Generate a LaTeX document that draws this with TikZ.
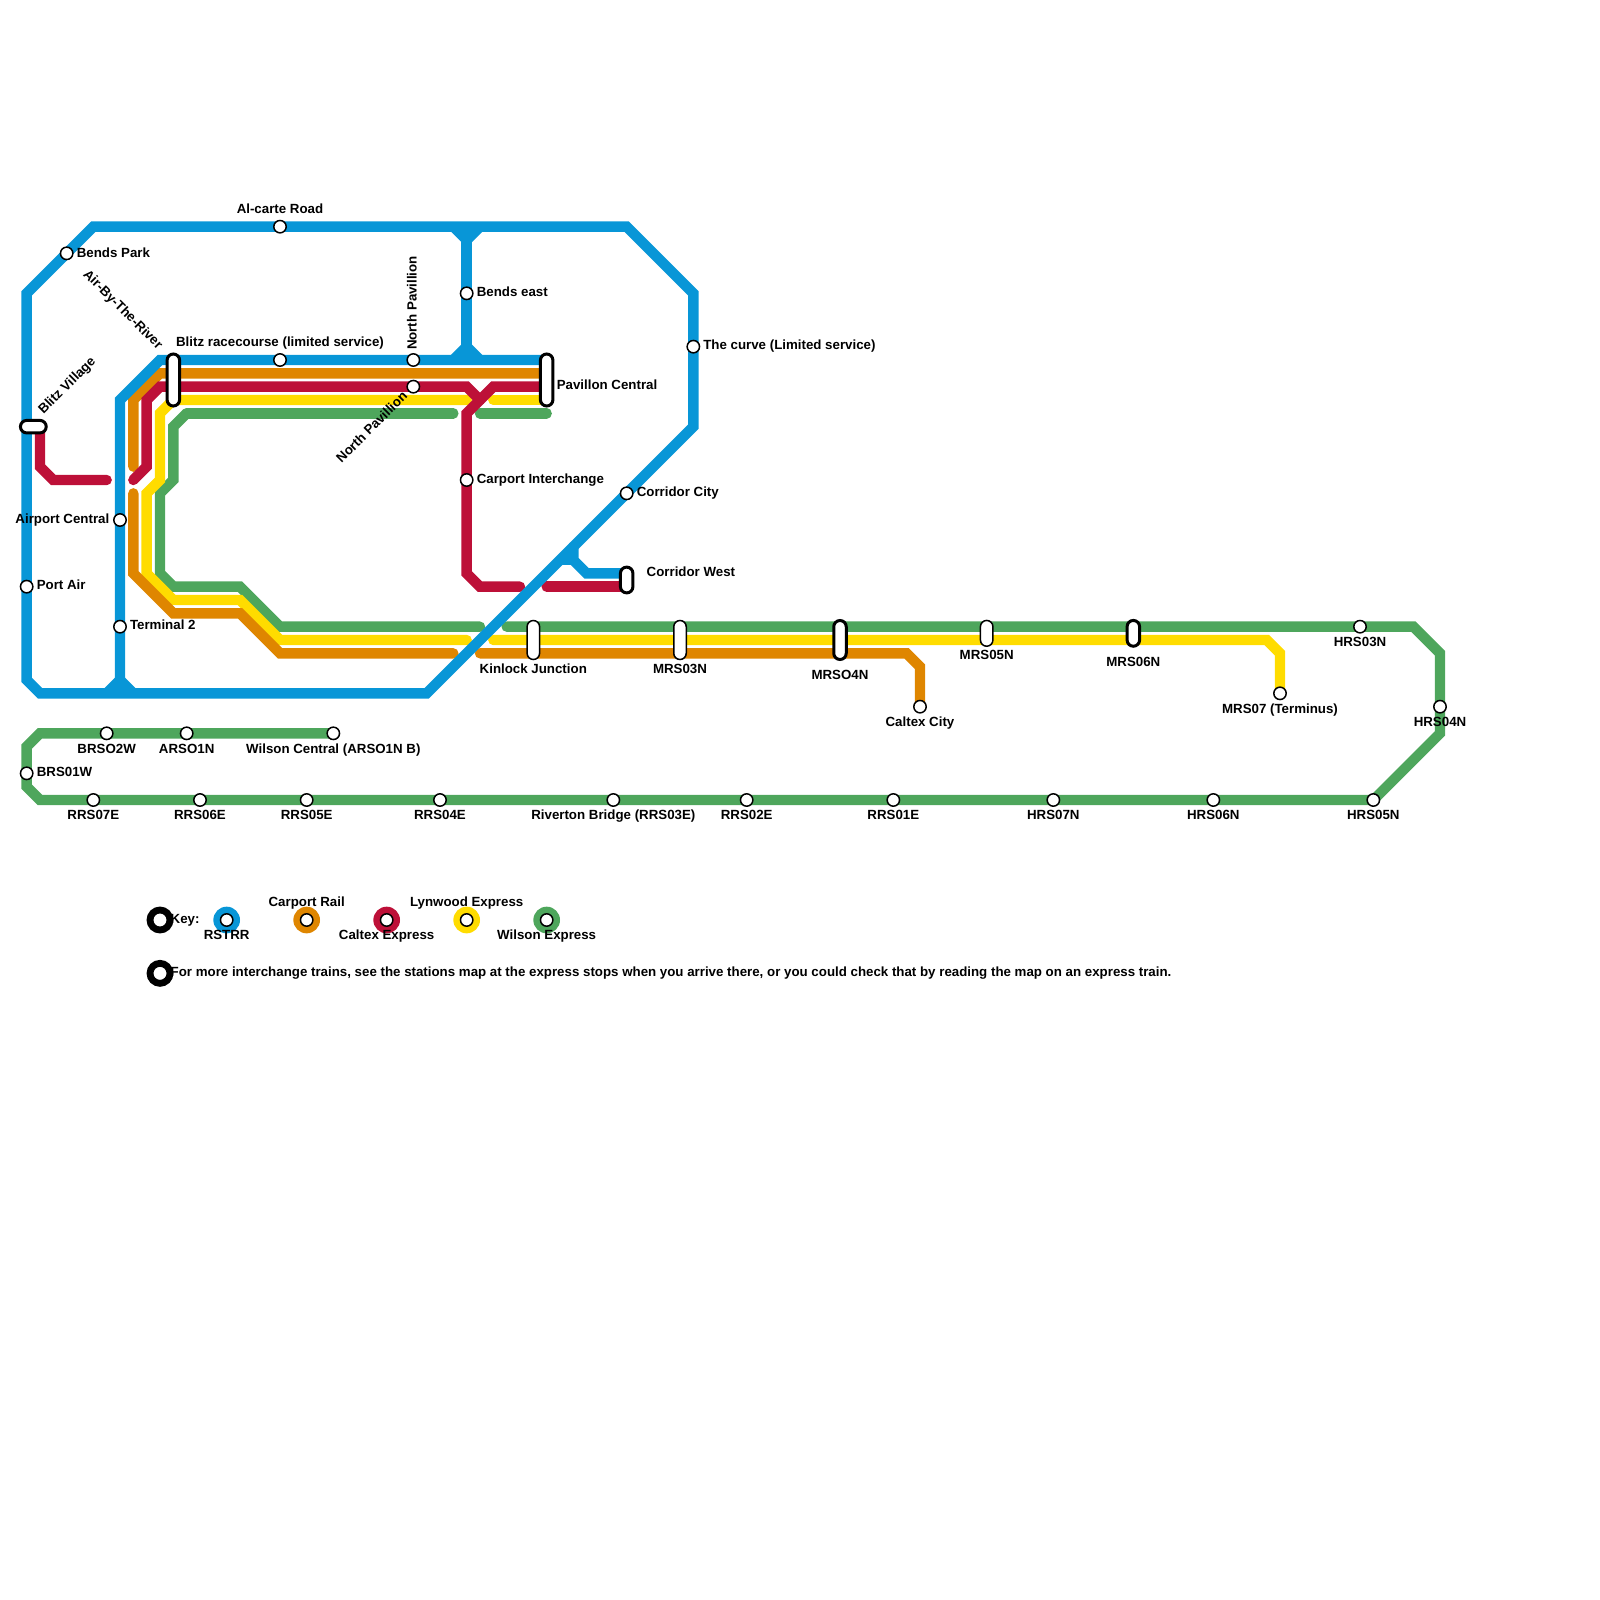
\documentclass[tikz,border=0pt]{standalone}
\usepackage{fontspec}
\setmainfont{Liberation Sans}
\usetikzlibrary{backgrounds}
\pgfdeclarelayer{front}
\pgfsetlayers{main,front}
\definecolor{cblue}{HTML}{0896D7}
\definecolor{corange}{HTML}{DF8600}
\definecolor{cred}{HTML}{BD1038}
\definecolor{cyellow}{HTML}{FFDC00}
\definecolor{cgreen}{HTML}{4EA65C}
\tikzset{
  x=13.33333pt,y=-13.33333pt,
  rail/.style={line width=10.4pt,line join=miter,line cap=round,miter limit=10},
  stn/.style={circle,draw=black,fill=white,line width=1.5pt,minimum size=12.4pt,inner sep=0pt,outer sep=0pt},
  pillv/.style={rectangle,rounded corners=6.25pt,draw=black,fill=white,line width=1.5pt,minimum width=12.5pt,minimum height=#1,inner sep=0pt,outer sep=0pt},
  pillh/.style={rectangle,rounded corners=6.25pt,draw=black,fill=white,line width=3pt,minimum height=12.5pt,minimum width=#1,inner sep=0pt,outer sep=0pt},
  heavy/.style={line width=3pt},
  lbl/.style={inner sep=0pt,outer sep=0pt,text height=9.6pt,text depth=0pt,font=\fontsize{13.3}{14}\selectfont\bfseries},
  ring/.style={circle,fill=#1,minimum size=26.67pt,inner sep=0pt,outer sep=0pt},
  bring/.style={circle,draw=black,fill=white,line width=6.8pt,minimum size=20pt,inner sep=0pt,outer sep=0pt},
}
\begin{document}
\begin{tikzpicture}
\useasboundingbox (0,0) rectangle (120,120);
\begin{pgfonlayer}{front}
\foreach \n/\a/\b in {alcarte/21/17,bendspark/5/19,bendseast/35/22,curve/52/26,blitzrace/21/27,northa/31/27,northb/31/29,carport/35/36,corrcity/47/37,airport/9/39,portair/2/44,terminal/9/47,brso/8/55,arso/14/55,wilson/25/55,brs/2/58,rrsa/7/60,rrsb/15/60,rrsc/23/60,rrsd/33/60,riverton/46/60,rrse/56/60,rrsf/67/60,hrsg/79/60,hrsf/91/60,hrse/103/60,hrsd/108/53,hrsc/102/47,mrsg/96/52,caltex/69/53}
  \node[stn] (\n) at (\a,\b) {};
\node[pillv=52pt,heavy] (airriver) at (13,28.5) {};
\node[pillv=52pt,heavy] (pavillon) at (41,28.5) {};
\node[pillh=25.8pt] (blitzvillage) at (2.5,32) {};
\node[pillv=25.8pt,heavy] (corrwest) at (47,43.5) {};
\node[pillv=39pt] (kinlock) at (40,48) {};
\node[pillv=39pt] (mrsc) at (51,48) {};
\node[pillv=39pt,heavy] (mrsd) at (63,48) {};
\node[pillv=25.8pt] (mrse) at (74,47.5) {};
\node[pillv=25.8pt,heavy] (mrsf) at (85,47.5) {};
% key
\node[bring] (keya) at (12,69) {};
\node[bring] (keyb) at (12,73) {};
\node[ring=cblue] (ka) at (17,69) {};
\node[ring=corange] (kb) at (23,69) {};
\node[ring=cred] (kc) at (29,69) {};
\node[ring=cyellow] (kd) at (35,69) {};
\node[ring=cgreen] (ke) at (41,69) {};
\foreach \k in {a,b,c,d,e} \node[stn] (ks\k) at (k\k) {};
% labels
\node[lbl] (t1) at (280pt,-208.3pt) {Al-carte Road};
\node[lbl,anchor=west] (t2) at (76.8pt,-252.2pt) {Bends Park};
\node[lbl,rotate=-45] (t3) at (123.5pt,-309pt) {Air-By-The-River};
\node[lbl,rotate=45] (t4) at (66.5pt,-385pt) {Blitz Village};
\node[lbl] (t5) at (280pt,-342pt) {Blitz racecourse (limited service)};
\node[lbl,rotate=90] (t6) at (411.7pt,-303pt) {North Pavillion};
\node[lbl,rotate=45] (t7) at (371.5pt,-427pt) {North Pavillion};
\node[lbl,anchor=west] (t8) at (476.8pt,-291.7pt) {Bends east};
\node[lbl,anchor=west] (t9) at (703.3pt,-345pt) {The curve (Limited service)};
\node[lbl,anchor=west] (t10) at (556.8pt,-385pt) {Pavillon Central};
\node[lbl,anchor=west] (t11) at (476.8pt,-478.3pt) {Carport Interchange};
\node[lbl,anchor=west] (t12) at (636.8pt,-491.7pt) {Corridor City};
\node[lbl,anchor=west] (t13) at (646.7pt,-571.7pt) {Corridor West};
\node[lbl] (t14) at (533.3pt,-668.3pt) {Kinlock Junction};
\node[lbl] (t15) at (680pt,-668.3pt) {MRS03N};
\node[lbl] (t16) at (840pt,-675pt) {MRSO4N};
\node[lbl] (t17) at (920pt,-721.7pt) {Caltex City};
\node[lbl] (t18) at (986.67pt,-655pt) {MRS05N};
\node[lbl] (t19) at (1133.33pt,-661.7pt) {MRS06N};
\node[lbl] (t20) at (1280pt,-708.3pt) {MRS07 (Terminus)};
\node[lbl] (t21) at (1360pt,-641.7pt) {HRS03N};
\node[lbl] (t22) at (1440pt,-721.7pt) {HRS04N};
\node[lbl] (t23) at (1373.33pt,-815pt) {HRS05N};
\node[lbl] (t24) at (1213.33pt,-815pt) {HRS06N};
\node[lbl] (t25) at (1053.33pt,-815pt) {HRS07N};
\node[lbl] (t26) at (893.33pt,-815pt) {RRS01E};
\node[lbl] (t27) at (746.67pt,-815pt) {RRS02E};
\node[lbl] (t28) at (613.33pt,-815pt) {Riverton Bridge (RRS03E)};
\node[lbl] (t29) at (440pt,-815pt) {RRS04E};
\node[lbl] (t30) at (306.67pt,-815pt) {RRS05E};
\node[lbl] (t31) at (200pt,-815pt) {RRS06E};
\node[lbl] (t32) at (93.33pt,-815pt) {RRS07E};
\node[lbl] (t33) at (106.67pt,-748.3pt) {BRSO2W};
\node[lbl] (t34) at (186.67pt,-748.3pt) {ARSO1N};
\node[lbl] (t35) at (333.33pt,-748.3pt) {Wilson Central (ARSO1N B)};
\node[lbl,anchor=west] (t36) at (36.8pt,-771.7pt) {BRS01W};
\node[lbl,anchor=west] (t37) at (36.8pt,-585pt) {Port Air};
\node[lbl,anchor=east] (t38) at (109.3pt,-518.3pt) {Airport Central};
\node[lbl,anchor=west] (t39) at (130pt,-625pt) {Terminal 2};
\node[lbl,anchor=west] (t40) at (170.7pt,-918.6pt) {Key:};
\node[lbl] (t41) at (226.67pt,-935pt) {RSTRR};
\node[lbl] (t42) at (306.67pt,-901.7pt) {Carport Rail};
\node[lbl] (t43) at (386.67pt,-935pt) {Caltex Express};
\node[lbl] (t44) at (466.67pt,-901.7pt) {Lynwood Express};
\node[lbl] (t45) at (546.67pt,-935pt) {Wilson Express};
\node[lbl,anchor=west] (t46) at (170.7pt,-971.7pt) {For more interchange trains, see the stations map at the express stops when you arrive there, or you could check that by reading the map on an express train.};
\end{pgfonlayer}
% green
\draw[rail,cgreen] (14,31) -- (34,31);
\draw[rail,cgreen] (36,31) -- (41,31);
\draw[rail,cgreen] (14,31) -- (13,32) -- (13,36) -- (12,37) -- (12,43) -- (13,44) -- (18,44) -- (21,47) -- (36,47);
\draw[rail,cgreen] (38,47) -- (104,47) -- (106,47) -- (108,49) -- (108,55) -- (hrse.center) -- (3,60) -- (2,59) -- (2,56) -- (3,55) -- (wilson.center);
% yellow
\draw[rail,cyellow] (35,30) -- (13,30) -- (12,31) -- (12,36) -- (11,37) -- (11,43) -- (13,45) -- (18,45) -- (21,48) -- (35,48);
\draw[rail,cyellow] (37,30) -- (41,30);
\draw[rail,cyellow] (37,48) -- (95,48) -- (96,49) -- (mrsg.center);
% orange
\draw[rail,corange] (10,35) -- (10,30) -- (12,28) -- (41,28);
\draw[rail,corange] (10,37) -- (10,43) -- (13,46) -- (18,46) -- (21,49) -- (34,49);
\draw[rail,corange] (36,49) -- (68,49) -- (69,50) -- (caltex.center);
% red
\draw[rail,cred] (3,32) -- (3,35) -- (4,36) -- (8,36);
\draw[rail,cred] (10,36) -- (11,35) -- (11,30) -- (12,29) -- (35,29) -- (36,30);
\draw[rail,cred] (41,29) -- (37,29) -- (35,31) -- (35,43) -- (36,44) -- (39,44);
\draw[rail,cred] (41,44) -- (47,44);
% blue
\draw[rail,cblue] (2,22) -- (7,17) -- (47,17) -- (52,22) -- (52,32) -- (32,52) -- (3,52) -- (2,51) -- cycle;
\draw[rail,cblue,line cap=butt] (9,52) -- (9,30) -- (12,27) -- (41,27);
\draw[rail,cblue,line cap=butt] (35,17) -- (35,27);
\fill[cblue] (34,17) -- (36,17) -- (35,18) -- cycle;
\draw[rail,cblue,line cap=butt,line join=bevel] (34,17) -- (35,18) -- (36,17);
\fill[cblue] (34,27) -- (36,27) -- (35,26) -- cycle;
\draw[rail,cblue,line cap=butt,line join=bevel] (34,27) -- (35,26) -- (36,27);
\fill[cblue] (8,52) -- (10,52) -- (9,51) -- cycle;
\draw[rail,cblue,line cap=butt,line join=bevel] (8,52) -- (9,51) -- (10,52);
\fill[cblue] (42,42) -- (43,42) -- (43,41) -- cycle;
\draw[rail,cblue] (47,43) -- (44,43) -- (43,42) -- (43,41);
\draw[rail,cblue,line cap=butt] (42,42) -- (43,42);
\end{tikzpicture}
\end{document}
